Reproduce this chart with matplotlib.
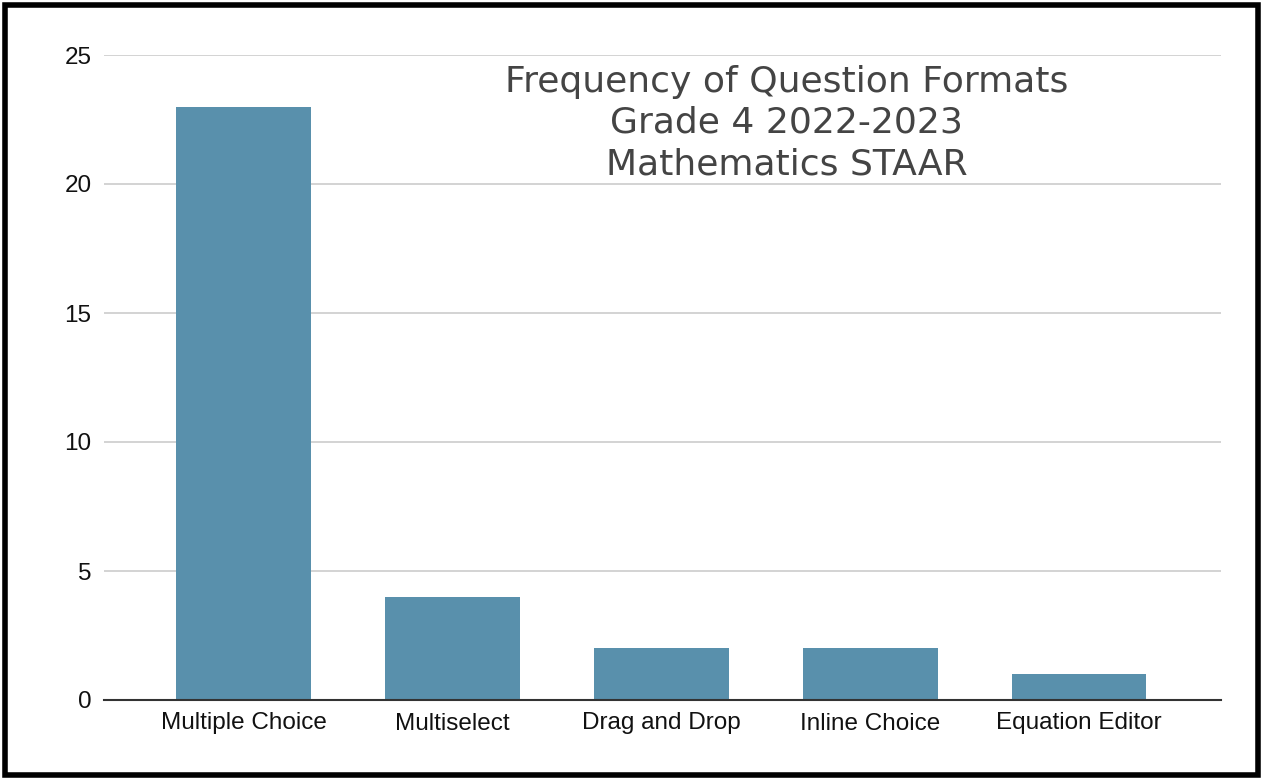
import numpy as np
import matplotlib.pyplot as plt
from matplotlib.patches import Rectangle

formats = ['Multiple Choice', 'Multiselect', 'Drag and Drop', 'Inline Choice', 'Equation Editor']
counts = [23, 4, 2, 2, 1]
yticks = [0, 5, 10, 15, 20, 25]

W, H = 1263, 780
fig = plt.figure(figsize=(W/100, H/100), dpi=100)
ax = fig.add_axes([104/W, 1 - 700/H, (1221-104)/W, (700-55)/H])

x = np.arange(len(formats))
ax.bar(x, counts, width=0.646, color='#5990ac', zorder=3)

ax.set_xlim(-0.67, 4.68)
ax.set_ylim(0, 25)
ax.set_yticks(yticks)
ax.set_xticks(x)
ax.set_xticklabels(formats, fontsize=17.5, family='Liberation Sans')
for lab in ax.get_yticklabels():
    lab.set_fontsize(17.5)
    lab.set_family('Liberation Sans')
ax.tick_params(length=0, pad=9, colors='#111111')
ax.tick_params(axis='y', pad=9)
ax.grid(axis='y', color='#cccccc', linewidth=1.2, zorder=0)
for s in ['top', 'right', 'left']:
    ax.spines[s].set_visible(False)
ax.spines['bottom'].set_color('#333333')
ax.spines['bottom'].set_linewidth(1.5)
ax.spines['bottom'].set_zorder(4)

ax.text(0.611, 0.985, 'Frequency of Question Formats\nGrade 4 2022-2023\nMathematics STAAR',
        transform=ax.transAxes, ha='center', va='top', fontsize=26,
        color='#444444', family='DejaVu Sans', linespacing=1.27)

fig.patches.append(Rectangle((5/W, 5/H), (W-10)/W, (H-10)/H, transform=fig.transFigure,
                             fill=False, edgecolor='black', linewidth=4))

fig.savefig('out.png', dpi=100)
